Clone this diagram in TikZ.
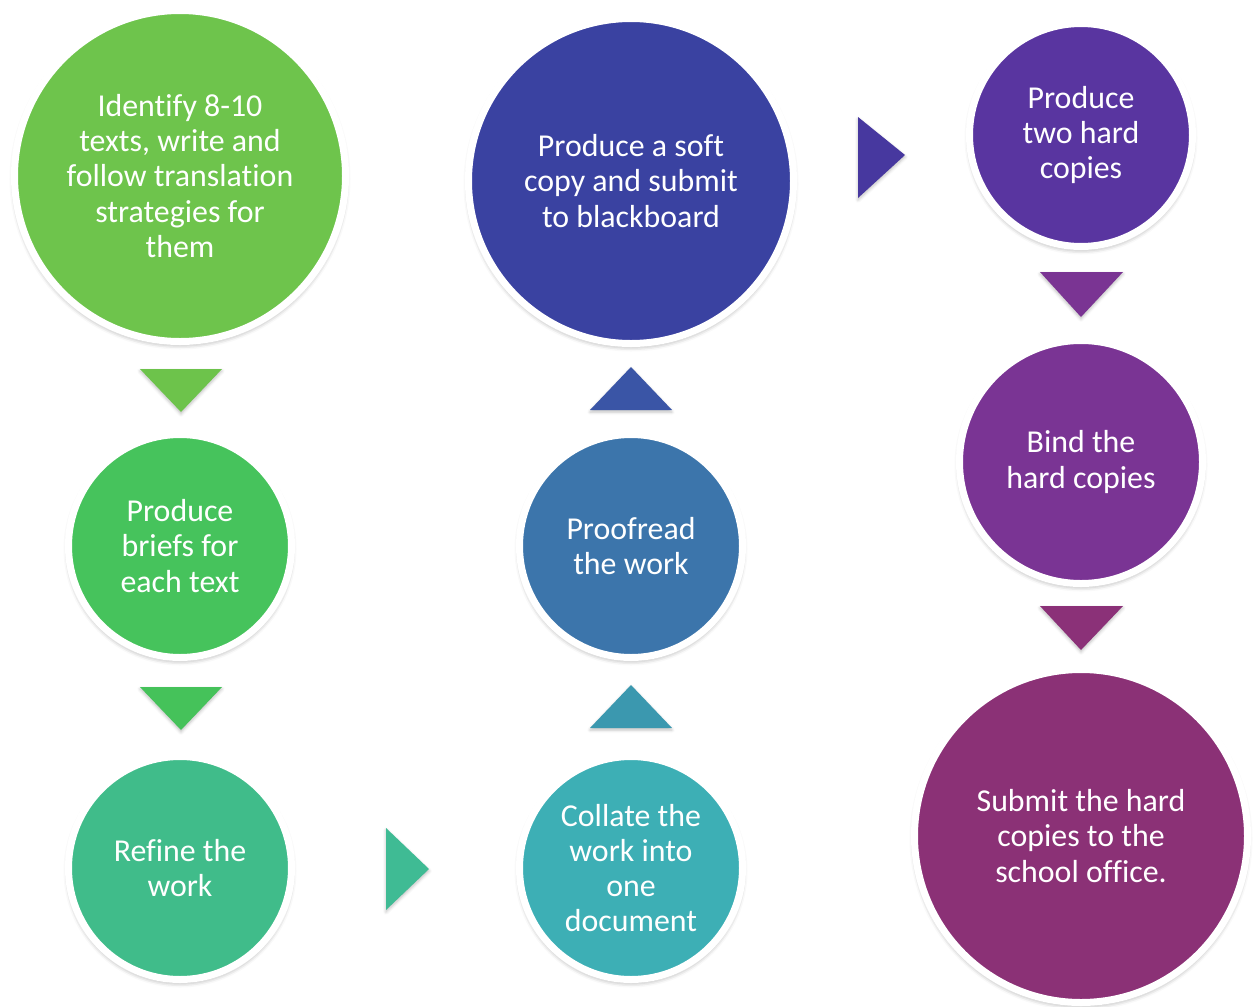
\documentclass[tikz,border=0pt]{standalone}
\usepackage{fontspec}
\setmainfont{Carlito}[Ligatures=NoCommon]
\usetikzlibrary{shadows.blur}
\definecolor{cA}{HTML}{6EC44C}
\definecolor{cB}{HTML}{46C35C}
\definecolor{cC}{HTML}{40BC8A}
\definecolor{cD}{HTML}{3DAFB5}
\definecolor{cE}{HTML}{3C75AB}
\definecolor{cF}{HTML}{3A42A1}
\definecolor{cG}{HTML}{5935A0}
\definecolor{cH}{HTML}{7A3494}
\definecolor{cI}{HTML}{8B3176}
\definecolor{tA}{HTML}{6DC34B}
\definecolor{tB}{HTML}{45C25A}
\definecolor{tC}{HTML}{3FBB94}
\definecolor{tD}{HTML}{3B98AF}
\definecolor{tE}{HTML}{3A55A6}
\definecolor{tF}{HTML}{47389F}
\definecolor{tG}{HTML}{7A3493}
\definecolor{tH}{HTML}{8B3178}
\begin{document}
\begin{tikzpicture}[x=1bp,y=-1bp,
  stepnode/.style={circle, draw=white, line width=7bp, inner sep=0pt, text=white,
    align=center, font=\fontsize{32}{35.3}\selectfont,
    blur shadow={shadow xshift=0bp, shadow yshift=-3bp, shadow blur radius=5bp, shadow opacity=40}},
  arrowtri/.style={blur shadow={shadow xshift=0bp, shadow yshift=-2bp, shadow blur radius=3bp, shadow opacity=25}}
]
\useasboundingbox (0,0) rectangle (1257,1007);

\node[stepnode, fill=cA, minimum size=331bp] (c1) at (180,176) {Identify 8-10\\texts, write and\\follow translation\\strategies for\\them};
\node[stepnode, fill=cB, minimum size=223bp] (c2) at (180,546) {Produce\\briefs for\\each text};
\node[stepnode, fill=cC, minimum size=223bp] (c3) at (180,868) {Refine the\\work};
\node[stepnode, fill=cD, minimum size=223bp] (c4) at (631,868) {Collate the\\work into\\one\\document};
\node[stepnode, fill=cE, minimum size=223bp] (c5) at (631,546) {Proofread\\the work};
\node[stepnode, fill=cF, minimum size=325bp] (c6) at (631,181) {Produce a soft\\copy and submit\\to blackboard};
\node[stepnode, fill=cG, minimum size=223bp] (c7) at (1081,135) {Produce\\two hard\\copies};
\node[stepnode, fill=cH, minimum size=243bp] (c8) at (1081,462) {Bind the\\hard copies};
\node[stepnode, fill=cI, minimum size=333bp] (c9) at (1081,836) {Submit the hard\\copies to the\\school office.};

% arrow triangles
\fill[tA, arrowtri] (140,369) -- (222,369) -- (181,412) -- cycle;
\fill[tB, arrowtri] (140,687) -- (222,687) -- (181,730) -- cycle;
\fill[tC, arrowtri] (386,828) -- (386,910) -- (429,869) -- cycle;
\fill[tD, arrowtri] (590,728) -- (672,728) -- (631,685) -- cycle;
\fill[tE, arrowtri] (590,410) -- (672,410) -- (631,367) -- cycle;
\fill[tF, arrowtri] (858,117) -- (858,198) -- (905,155) -- cycle;
\fill[tG, arrowtri] (1040,272) -- (1123,272) -- (1081,317) -- cycle;
\fill[tH, arrowtri] (1040,606) -- (1123,606) -- (1081,650) -- cycle;
\end{tikzpicture}
\end{document}
